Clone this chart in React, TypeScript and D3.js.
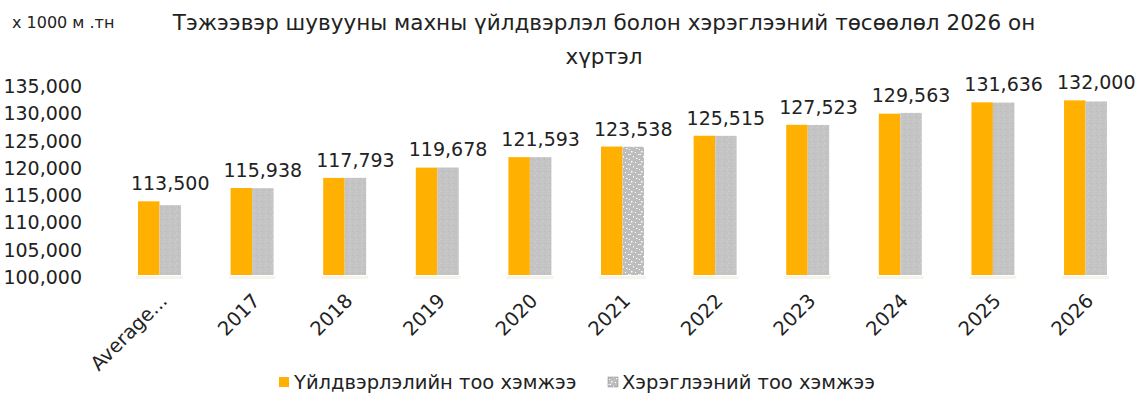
import React from "react";
import * as d3 from "d3";

const categories = ["Average...", "2017", "2018", "2019", "2020", "2021", "2022", "2023", "2024", "2025", "2026"];
const production = [113500, 115938, 117793, 119678, 121593, 123538, 125515, 127523, 129563, 131636, 132000];
const consumption = [112800, 115900, 117800, 119700, 121600, 123500, 125500, 127500, 129700, 131600, 131800];
const yTicks = [100000, 105000, 110000, 115000, 120000, 125000, 130000, 135000];
const seriesNames = ["Үйлдвэрлэлийн тоо хэмжээ", "Хэрэглээний тоо хэмжээ"];
const titleLines = ["Тэжээвэр шувууны махны үйлдвэрлэл болон хэрэглээний төсөөлөл 2026 он", "хүртэл"];
const unitLabel = "x 1000 м .тн";

const W = 1148;
const H = 394;
const FONT = "'DejaVu Sans', Verdana, sans-serif";
const ORANGE = "#FFB000";
const GRAY = "#C4C4C4";

export default function App() {
  const x0 = d3.scaleBand<string>().domain(categories).range([113, 1132]).paddingInner(0.536).paddingOuter(0.27);
  const x1 = d3.scaleBand<string>().domain(["p", "c"]).range([0, x0.bandwidth()]);
  const y = d3.scaleLinear().domain([100000, 135000]).range([275, 84]);
  const fmt = d3.format(",");

  return (
    <svg width={W} height={H} style={{ position: "fixed", left: 0, top: 0, background: "#fff" }} fontFamily={FONT}>
      <defs>
        <pattern id="grayTex" width="6" height="6" patternUnits="userSpaceOnUse">
          <rect width="6" height="6" fill={GRAY} />
          <rect x="1" y="1" width="1" height="1" fill="#D0D0D0" />
          <rect x="4" y="3" width="1" height="1" fill="#B8B8B8" />
          <rect x="2" y="5" width="1" height="1" fill="#D2D2D2" />
        </pattern>
        <pattern id="speckle" width="10" height="10" patternUnits="userSpaceOnUse">
          <rect width="10" height="10" fill="#BDBDBD" />
          <rect x="1" y="1" width="1.5" height="1.5" fill="#fff" />
          <rect x="5" y="2" width="1" height="1" fill="#fff" />
          <rect x="8" y="4" width="1.5" height="1" fill="#fff" />
          <rect x="3" y="6" width="1" height="1.5" fill="#fff" />
          <rect x="6" y="8" width="1.5" height="1" fill="#fff" />
          <rect x="0" y="4" width="1" height="1" fill="#fff" />
          <rect x="9" y="9" width="1" height="1" fill="#fff" />
        </pattern>
      </defs>

      <text x={12} y={28} fontSize={16} fill="#222">{unitLabel}</text>
      {titleLines.map((t, i) => (
        <text key={i} x={604} y={30 + i * 34} fontSize={21.5} fill="#222" textAnchor="middle">{t}</text>
      ))}

      {yTicks.map((t) => (
        <text key={t} x={82} y={y(t) + 9} fontSize={19} fill="#222" textAnchor="end">{fmt(t)}</text>
      ))}

      {categories.map((c, i) => {
        const gx = x0(c)!;
        const px = gx + x1("p")!;
        const cx = gx + x1("c")!;
        const bw = x1.bandwidth();
        const top = Math.min(y(production[i]), y(consumption[i]));
        return (
          <g key={c}>
            <rect x={gx - 2} y={276} width={x0.bandwidth() + 4} height={3} fill="#F7F4EC" />
            <rect x={px} y={y(production[i])} width={bw} height={y(100000) - y(production[i])} fill={ORANGE} />
            <rect x={cx} y={y(consumption[i])} width={bw} height={y(100000) - y(consumption[i])} fill={c === "2021" ? "url(#speckle)" : "url(#grayTex)"} />
            <text x={cx + bw / 2} y={top - 11} fontSize={19} fill="#222" textAnchor="middle">{fmt(production[i])}</text>
            <text transform={`translate(${gx + x0.bandwidth() / 2 + 9},${302}) rotate(-45)`} fontSize={19.5} fill="#222" textAnchor="end">{c}</text>
          </g>
        );
      })}

      <g>
        <rect x={279} y={377} width={10} height={10} fill={ORANGE} />
        <text x={294} y={389} fontSize={19.5} fill="#222">{seriesNames[0]}</text>
        <rect x={608} y={377} width={10} height={10} fill="url(#speckle)" stroke="#888" strokeWidth={0.5} />
        <text x={622} y={389} fontSize={19.5} fill="#222">{seriesNames[1]}</text>
      </g>
    </svg>
  );
}
